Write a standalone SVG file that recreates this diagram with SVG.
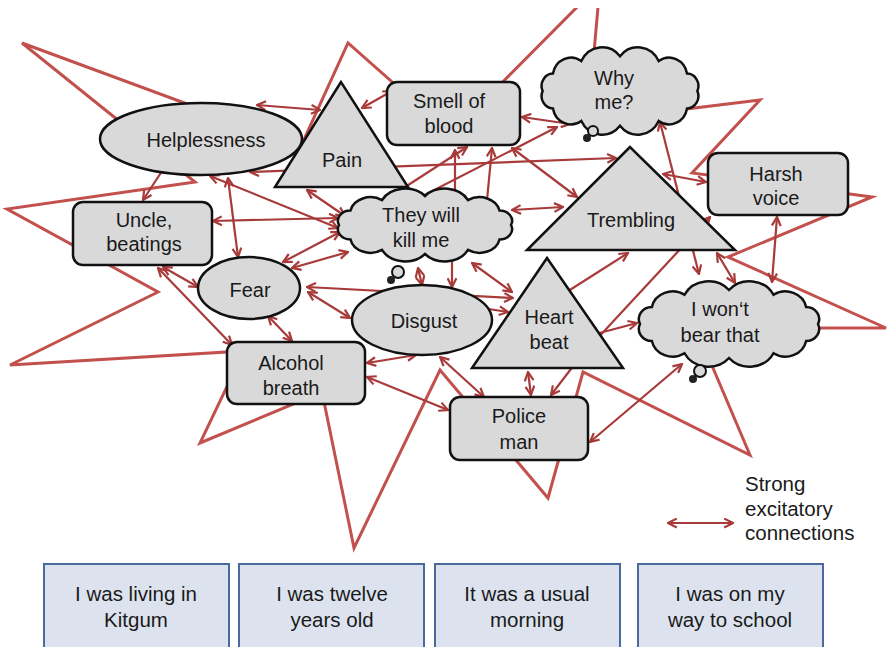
<svg xmlns="http://www.w3.org/2000/svg" xmlns:xlink="http://www.w3.org/1999/xlink" width="887" height="647" viewBox="0 0 887 647">
<style>
.star{fill:none;stroke:#c2504d;stroke-width:3;stroke-linejoin:miter}
.con line{stroke:#a83a3a;stroke-width:2.2;marker-start:url(#ah);marker-end:url(#ah)}
.con line.e{marker-start:none}
.nd{fill:#d9d9d9;stroke:#111;stroke-width:2.5}
.t{font-family:"Liberation Sans",Arial,sans-serif;font-size:20px;fill:#1a1a1a;text-anchor:middle}
.bx{fill:#dce3ee;stroke:#4a6a9c;stroke-width:2}
.bt{font-family:"Liberation Sans",Arial,sans-serif;font-size:20.5px;fill:#1a1a1a;text-anchor:middle}
.lg{font-family:"Liberation Sans",Arial,sans-serif;font-size:20.5px;fill:#1a1a1a}
.tail1{fill:#d9d9d9;stroke:#111;stroke-width:2}
.tail2{fill:#222}
</style>
<defs>
<marker id="ah" viewBox="0 0 10 10" refX="9" refY="5" markerWidth="11" markerHeight="11" markerUnits="userSpaceOnUse" orient="auto-start-reverse">
<path d="M1,1 L9,5 L1,9" fill="none" stroke="#a83a3a" stroke-width="2"/>
</marker>
<clipPath id="topclip"><rect x="0" y="8" width="887" height="639"/></clipPath>
<path id="cloud" vector-effect="non-scaling-stroke" d="M186,50 A12.8,12.8 0 0 1 174.5,68 A20.4,20.4 0 0 1 143,81 A26,26 0 0 1 100,86 A26,26 0 0 1 57,81 A20.4,20.4 0 0 1 25.5,68 A12.8,12.8 0 0 1 14,50 A12.8,12.8 0 0 1 25.5,32 A20.4,20.4 0 0 1 57,19 A26,26 0 0 1 100,14 A26,26 0 0 1 143,19 A20.4,20.4 0 0 1 174.5,32 A12.8,12.8 0 0 1 186,50 Z"/>
</defs>
<rect width="887" height="647" fill="#fff"/>

<g id="star" clip-path="url(#topclip)">
<polygon class="star" points="22,43 301,146 348,43 451,134 600,-16 588,121 760,100 692,173 872,197 728,257 886,328 696,328 750,455 583,372 548,498 440,370 354,548 322,392 200,443 244,351 10,365 158,292 100,260 7,209 195,182"/>
</g>

<g id="connectors" class="con">
<line x1="257" y1="105" x2="320" y2="110"/>
<line x1="143" y1="200" x2="168" y2="162"/>
<line x1="362" y1="108" x2="392" y2="91"/>
<line x1="522" y1="117" x2="570" y2="124"/>
<line class="e" x1="385" y1="200" x2="467" y2="147"/>
<line class="e" x1="455" y1="200" x2="455" y2="150"/>
<line class="e" x1="487" y1="200" x2="492" y2="148"/>
<line x1="512" y1="148" x2="577" y2="197"/>
<line class="e" x1="405" y1="205" x2="557" y2="127"/>
<line x1="250" y1="172" x2="616" y2="158"/>
<line x1="663" y1="174" x2="706" y2="182"/>
<line x1="660" y1="122" x2="699" y2="274"/>
<line x1="717" y1="253" x2="735" y2="283"/>
<line x1="777" y1="217" x2="772" y2="282"/>
<line class="e" x1="595" y1="341" x2="710" y2="217"/>
<line class="e" x1="562" y1="295" x2="628" y2="253"/>
<line class="e" x1="592" y1="335" x2="637" y2="323"/>
<line x1="590" y1="442" x2="682" y2="364"/>
<line x1="528" y1="372" x2="531" y2="395"/>
<line class="e" x1="574" y1="365" x2="551" y2="395"/>
<line x1="440" y1="357" x2="484" y2="397"/>
<line x1="367" y1="363" x2="416" y2="355"/>
<line x1="367" y1="377" x2="448" y2="410"/>
<line x1="307" y1="287" x2="513" y2="298"/>
<line x1="308" y1="292" x2="350" y2="318"/>
<line x1="472" y1="263" x2="512" y2="292"/>
<line class="e" x1="482" y1="308" x2="508" y2="312"/>
<line class="e" x1="452" y1="250" x2="452" y2="287"/>
<line x1="418" y1="268" x2="422" y2="285"/>
<line x1="283" y1="262" x2="340" y2="232"/>
<line x1="292" y1="268" x2="348" y2="252"/>
<line x1="213" y1="221" x2="338" y2="218"/>
<line x1="210" y1="176" x2="338" y2="228"/>
<line x1="228" y1="178" x2="238" y2="257"/>
<line x1="307" y1="190" x2="345" y2="216"/>
<line x1="163" y1="267" x2="198" y2="287"/>
<line x1="158" y1="268" x2="232" y2="345"/>
<line x1="268" y1="316" x2="292" y2="341"/>
<line x1="512" y1="210" x2="563" y2="207"/>
</g>

<g id="helplessness">
<ellipse class="nd" cx="201" cy="139" rx="101" ry="36"/>
<text class="t" x="206" y="147">Helplessness</text>
</g>
<g id="pain">
<polygon class="nd" points="341,82 275,187 408,187"/>
<text class="t" x="342" y="167">Pain</text>
</g>
<g id="smell">
<rect class="nd" x="387" y="82" width="133" height="63" rx="10"/>
<text class="t" x="449" y="108">Smell of</text>
<text class="t" x="449" y="133">blood</text>
</g>
<g id="whyme">
<use href="#cloud" class="nd" transform="translate(530,42.6) scale(0.9,0.968)"/>
<circle class="tail1" cx="593" cy="131" r="5"/>
<circle class="tail2" cx="587" cy="138" r="4"/>
<text class="t" x="614" y="85">Why</text>
<text class="t" x="614" y="109">me?</text>
</g>
<g id="harsh">
<rect class="nd" x="708" y="153" width="140" height="62" rx="10"/>
<text class="t" x="776" y="181">Harsh</text>
<text class="t" x="776" y="205">voice</text>
</g>
<g id="trembling">
<polygon class="nd" points="630,147 527,250 735,250"/>
<text class="t" x="631" y="227">Trembling</text>
</g>
<g id="uncle">
<rect class="nd" x="73" y="202" width="139" height="63" rx="10"/>
<text class="t" x="144" y="227">Uncle,</text>
<text class="t" x="144" y="251">beatings</text>
</g>
<g id="theywill">
<use href="#cloud" class="nd" transform="translate(325,184.75) scale(1.0,0.805)"/>
<circle class="tail1" cx="398" cy="272" r="6"/>
<circle class="tail2" cx="391" cy="280" r="4"/>
<text class="t" x="421" y="222">They will</text>
<text class="t" x="421" y="247">kill me</text>
</g>
<g id="fear">
<ellipse class="nd" cx="249" cy="288" rx="51" ry="31"/>
<text class="t" x="250" y="297">Fear</text>
</g>
<g id="disgust">
<ellipse class="nd" cx="422" cy="320" rx="70" ry="35"/>
<text class="t" x="424" y="328">Disgust</text>
</g>
<g id="heartbeat">
<polygon class="nd" points="547,258 472,368 623,368"/>
<text class="t" x="549" y="324">Heart</text>
<text class="t" x="549" y="349">beat</text>
</g>
<g id="iwont">
<use href="#cloud" class="nd" transform="translate(625.5,276.8) scale(1.035,0.944)"/>
<circle class="tail1" cx="700" cy="371" r="6"/>
<circle class="tail2" cx="693" cy="379" r="4"/>
<text class="t" x="720" y="316">I won‘t</text>
<text class="t" x="720" y="342">bear that</text>
</g>
<g id="alcohol">
<rect class="nd" x="227" y="342" width="138" height="62" rx="10"/>
<text class="t" x="291" y="370">Alcohol</text>
<text class="t" x="291" y="395">breath</text>
</g>
<g id="police">
<rect class="nd" x="450" y="397" width="138" height="63" rx="10"/>
<text class="t" x="519" y="423">Police</text>
<text class="t" x="519" y="449">man</text>
</g>

<g id="legend">
<line x1="668" y1="523" x2="733" y2="523" stroke="#a83a3a" stroke-width="2.2" marker-start="url(#ah)" marker-end="url(#ah)"/>
<text class="lg" x="745" y="491">Strong</text>
<text class="lg" x="745" y="515.5">excitatory</text>
<text class="lg" x="745" y="540">connections</text>
</g>

<g id="box1">
<rect class="bx" x="44" y="564" width="185" height="95"/>
<text class="bt" x="136" y="601">I was living in</text>
<text class="bt" x="136" y="627">Kitgum</text>
</g>
<g id="box2">
<rect class="bx" x="239" y="564" width="185" height="95"/>
<text class="bt" x="332" y="601">I was twelve</text>
<text class="bt" x="332" y="627">years old</text>
</g>
<g id="box3">
<rect class="bx" x="435" y="564" width="185" height="95"/>
<text class="bt" x="527" y="601">It was a usual</text>
<text class="bt" x="527" y="627">morning</text>
</g>
<g id="box4">
<rect class="bx" x="638" y="564" width="185" height="95"/>
<text class="bt" x="730" y="601">I was on my</text>
<text class="bt" x="730" y="627">way to school</text>
</g>
</svg>
